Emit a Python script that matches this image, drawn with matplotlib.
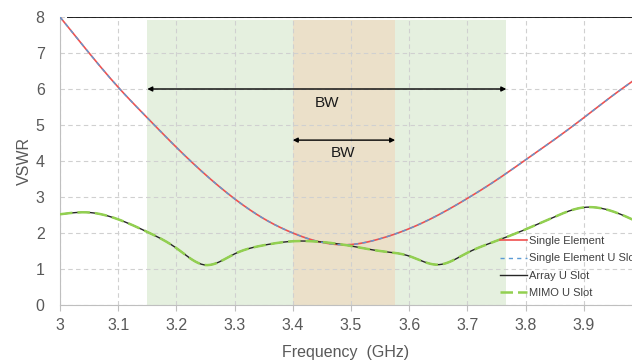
import matplotlib
matplotlib.use("Agg")
import matplotlib.pyplot as plt
import numpy as np

plt.rcParams['font.family'] = ['Liberation Sans', 'DejaVu Sans']

# frequency samples (GHz)
freq = [3.0, 3.05, 3.1, 3.15, 3.2, 3.25, 3.3, 3.35, 3.4, 3.45, 3.5, 3.55,
        3.6, 3.65, 3.7, 3.75, 3.8, 3.85, 3.9, 3.95, 4.0]
# single element (and single element U slot, identical)
vswr_single = [8.0, 7.0, 6.05, 5.2, 4.38, 3.62, 2.95, 2.4, 2.0, 1.74, 1.68, 1.84,
               2.12, 2.5, 2.96, 3.47, 4.03, 4.6, 5.2, 5.82, 6.4]
# array U slot / MIMO U slot (identical)
vswr_array = [2.52, 2.57, 2.38, 2.03, 1.58, 1.11, 1.42, 1.66, 1.77, 1.75, 1.64, 1.5,
              1.36, 1.12, 1.45, 1.78, 2.1, 2.45, 2.71, 2.6, 2.25]

bw_wide = (3.15, 3.767)
bw_narrow = (3.4, 3.576)

labels = ["Single Element", "Single Element U Slot", "Array U Slot", "MIMO U Slot"]


def smooth(x, y, n=400):
    """natural cubic spline through the read points"""
    x = np.asarray(x, float)
    y = np.asarray(y, float)
    xs = np.linspace(x[0], x[-1], n)
    h = np.diff(x)
    A = np.zeros((len(x), len(x)))
    r = np.zeros(len(x))
    A[0, 0] = A[-1, -1] = 1
    for i in range(1, len(x) - 1):
        A[i, i - 1] = h[i - 1]
        A[i, i] = 2 * (h[i - 1] + h[i])
        A[i, i + 1] = h[i]
        r[i] = 6 * ((y[i + 1] - y[i]) / h[i] - (y[i] - y[i - 1]) / h[i - 1])
    m = np.linalg.solve(A, r)
    idx = np.clip(np.searchsorted(x, xs) - 1, 0, len(x) - 2)
    t = xs - x[idx]
    hi = h[idx]
    a = (m[idx + 1] - m[idx]) / (6 * hi)
    b = m[idx] / 2
    c = (y[idx + 1] - y[idx]) / hi - hi * (2 * m[idx] + m[idx + 1]) / 6
    return xs, y[idx] + c * t + b * t ** 2 + a * t ** 3


fig = plt.figure(figsize=(6.32, 3.6), dpi=100)
ax = fig.add_axes([60 / 632, 1 - 305 / 360, 1 - 60 / 632, (305 - 17) / 360])

ax.axvspan(*bw_wide, ymin=0, ymax=7.92 / 8, color='#e5f0df', lw=0, zorder=0)
ax.axvspan(*bw_narrow, ymin=0, ymax=7.92 / 8, color='#ebe0c9', lw=0, zorder=0.5)

xs, ys1 = smooth(freq, vswr_single)
_, ys2 = smooth(freq, vswr_array)

ax.plot(xs, ys1, color='#f0504f', lw=1.2, label=labels[0], zorder=3)
ax.plot(xs, ys1, color='#5b9bd5', lw=1.0, ls=(0, (3, 3)), label=labels[1], zorder=4)
ax.plot(xs, ys2, color='#262626', lw=1.0, label=labels[2], zorder=3)
ax.plot(xs, ys2, color='#92d050', lw=1.8, ls=(0, (5, 2)), label=labels[3], zorder=4)

ax.hlines(8, 3.012, 4.0, color='black', lw=1.2, zorder=5)

ax.annotate('', xy=(bw_wide[0], 6), xytext=(bw_wide[1], 6),
            arrowprops=dict(arrowstyle='<|-|>', color='black', lw=1, mutation_scale=7,
                            shrinkA=0, shrinkB=0), zorder=6)
ax.text(3.459, 5.62, 'BW', ha='center', va='center', fontsize=11, color='#1a1a1a')
ax.annotate('', xy=(bw_narrow[0], 4.58), xytext=(bw_narrow[1], 4.58),
            arrowprops=dict(arrowstyle='<|-|>', color='black', lw=1, mutation_scale=7,
                            shrinkA=0, shrinkB=0), zorder=6)
ax.text(3.486, 4.22, 'BW', ha='center', va='center', fontsize=11, color='#1a1a1a')

ax.set_xlim(3, 3.983)
ax.set_ylim(0, 8)
ax.set_xticks(np.arange(3.0, 3.95, 0.1))
ax.set_xticklabels(['3', '3.1', '3.2', '3.3', '3.4', '3.5', '3.6', '3.7', '3.8', '3.9'])
ax.set_yticks(range(0, 9))
ax.grid(True, color='#d0d0d0', ls=(0, (4, 3)), lw=0.8)
ax.set_axisbelow(True)
for s in ['top', 'right']:
    ax.spines[s].set_visible(False)
for s in ['left', 'bottom']:
    ax.spines[s].set_color('#bfbfbf')
ax.tick_params(axis='x', length=4, color='#bfbfbf', labelsize=11.5, labelcolor='#595959', pad=5)
ax.tick_params(axis='y', length=0, labelsize=11.5, labelcolor='#595959', pad=11)
ax.set_xlabel('Frequency  (GHz)', fontsize=11.5, color='#595959', labelpad=9)
ax.set_ylabel('VSWR', fontsize=11.5, color='#595959', labelpad=3)

ax.legend(loc='lower left', bbox_to_anchor=(0.752, -0.01), frameon=False, fontsize=8,
          handlelength=2.4, handletextpad=0.2, labelspacing=0.65, labelcolor='#404040')

fig.savefig('out.png', dpi=100)
